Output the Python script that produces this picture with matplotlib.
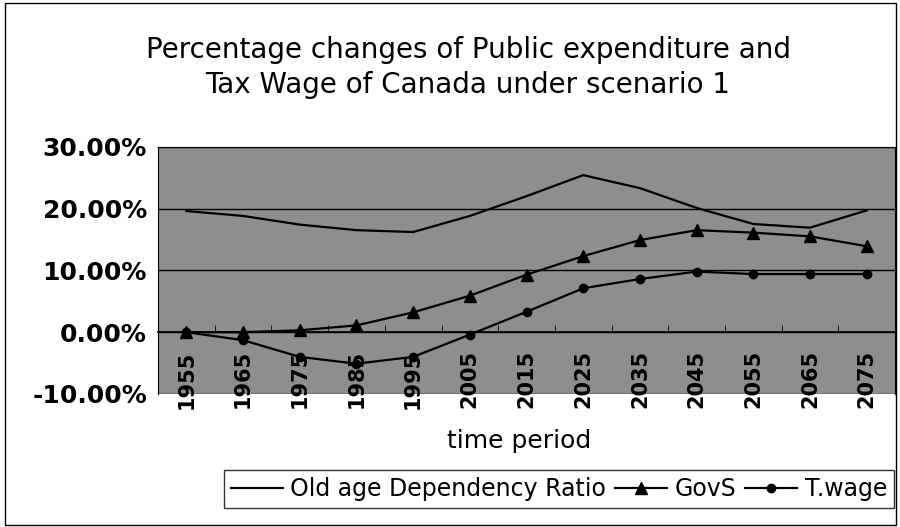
import matplotlib.pyplot as plt
from matplotlib.patches import Rectangle
from matplotlib.ticker import FixedLocator, PercentFormatter

# --- data (percent) ---
periods = ['1955', '1965', '1975', '1985', '1995', '2005', '2015',
           '2025', '2035', '2045', '2055', '2065', '2075']
old_age_ratio = [19.6, 18.8, 17.4, 16.5, 16.2, 18.8, 22.0,
                 25.4, 23.3, 20.1, 17.5, 16.9, 19.7]
govs = [0.0, 0.0, 0.3, 1.1, 3.2, 5.9, 9.3,
        12.3, 14.9, 16.5, 16.1, 15.5, 13.9]
t_wage = [0.0, -1.3, -4.0, -5.1, -4.0, -0.4, 3.3,
          7.1, 8.6, 9.8, 9.4, 9.4, 9.4]

plt.rcParams['axes.unicode_minus'] = False
plt.rcParams['font.family'] = 'DejaVu Sans'

fig = plt.figure(figsize=(9, 5.27), dpi=100)
fig.patch.set_facecolor('white')
ax = fig.add_axes([0.1756, 0.2524, 0.8189, 0.4692])
ax.set_facecolor('#8e8e8e')

x = list(range(len(periods)))
ax.plot(x, old_age_ratio, color='black', lw=1.6, label='Old age Dependency Ratio')
ax.plot(x, govs, color='black', lw=1.6, marker='^', ms=8, label='GovS')
ax.plot(x, t_wage, color='black', lw=1.6, marker='o', ms=6, label='T.wage')

ax.set_xlim(-0.5, len(periods) - 0.5)
ax.set_ylim(-10, 30)
ax.set_yticks([-10, 0, 10, 20, 30])
ax.yaxis.set_major_formatter(PercentFormatter(decimals=2))
ax.grid(axis='y', color='black', lw=1.0)
ax.set_axisbelow(True)

# category axis sits on the zero line, labels hang below it
ax.spines['bottom'].set_position(('data', 0))
ax.spines['bottom'].set_linewidth(1.2)
ax.set_xticks(x)
ax.set_xticklabels(periods, rotation=90, fontsize=15, fontweight='bold')
ax.xaxis.set_minor_locator(FixedLocator([i + 0.5 for i in x[:-1]]))
ax.tick_params(axis='x', which='major', length=0, pad=13)
ax.tick_params(axis='x', which='minor', direction='in', length=5, color='black')
ax.tick_params(axis='y', length=0, pad=8, labelsize=18)
for lab in ax.get_yticklabels():
    lab.set_fontweight('bold')
for sp in ax.spines.values():
    sp.set_color('black')

fig.text(0.52, 0.872, 'Percentage changes of Public expenditure and\nTax Wage of Canada under scenario 1',
         ha='center', va='center', fontsize=20, linespacing=1.3)
fig.text(0.577, 0.163, 'time period', ha='center', va='center', fontsize=18)

leg = fig.legend(loc='center', bbox_to_anchor=(0.621, 0.072), ncol=3, frameon=True,
                 fancybox=False, edgecolor='black', handlelength=2.2, handletextpad=0.3,
                 columnspacing=0.4, borderpad=0.3, prop={'size': 17})
leg.get_frame().set_linewidth(1.0)

# outer chart border
fig.patches.append(Rectangle((0.006, 0.004), 0.99, 0.99, transform=fig.transFigure,
                             fill=False, edgecolor='black', lw=1.0))

plt.savefig('out.png', dpi=100)
